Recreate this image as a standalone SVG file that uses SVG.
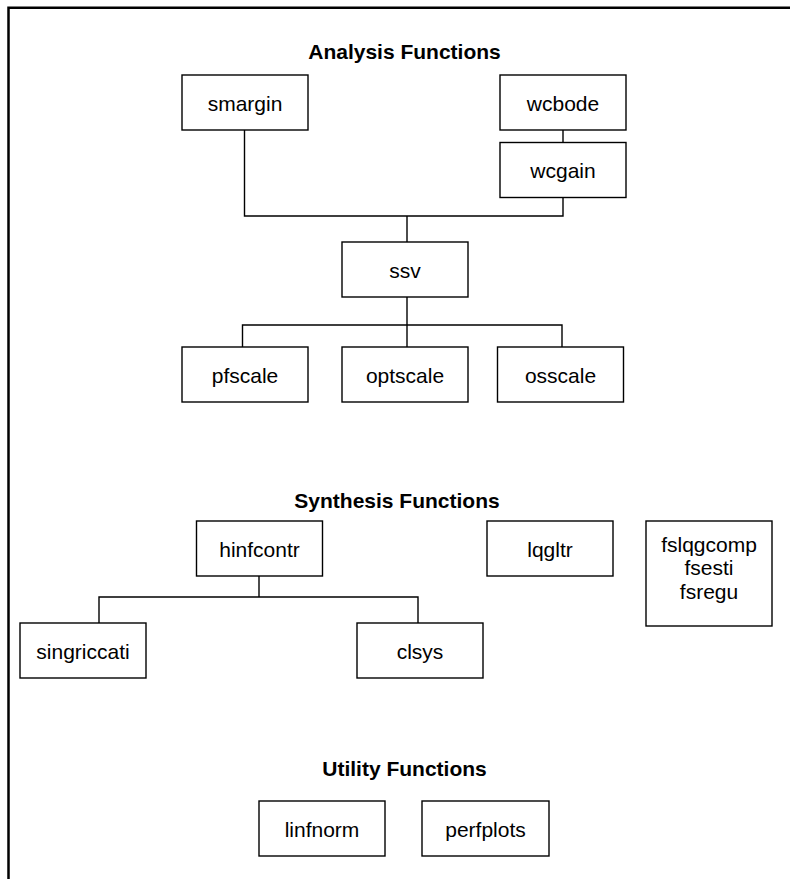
<svg xmlns="http://www.w3.org/2000/svg" width="790" height="879" viewBox="0 0 790 879">
<style>
.box{fill:#fff;stroke:#000;stroke-width:1.4}
.lbl{font-family:"Liberation Sans",Arial,Helvetica,sans-serif;font-size:21px;text-anchor:middle;fill:#000}
.ttl{font-family:"Liberation Sans",Arial,Helvetica,sans-serif;font-size:21px;font-weight:bold;text-anchor:middle;fill:#000}
.con{fill:none;stroke:#000;stroke-width:1.4}
.frame{fill:none;stroke:#000;stroke-width:2.5}
</style>
<rect width="790" height="879" fill="#fff"/>
<path class="frame" d="M8.5,879 V7.7 H790"/>
<text class="ttl" x="404.5" y="59">Analysis Functions</text>
<text class="ttl" x="397" y="508">Synthesis Functions</text>
<text class="ttl" x="404.5" y="776">Utility Functions</text>
<g id="connectors">
<path class="con" d="M244.5,130 V216 H563 V197.5"/>
<path class="con" d="M563,130 V142.5"/>
<path class="con" d="M407,216 V242"/>
<path class="con" d="M407,297 V347"/>
<path class="con" d="M242.5,347 V325 H562 V347"/>
<path class="con" d="M259,576 V597"/>
<path class="con" d="M99,623 V597 H418 V623"/>
</g>
<g id="smargin"><rect class="box" x="182" y="75" width="126" height="55"/><text class="lbl" x="245" y="110.5">smargin</text></g>
<g id="wcbode"><rect class="box" x="500" y="75" width="126" height="55"/><text class="lbl" x="563" y="110.5">wcbode</text></g>
<g id="wcgain"><rect class="box" x="500" y="142.5" width="126" height="55"/><text class="lbl" x="563" y="178">wcgain</text></g>
<g id="ssv"><rect class="box" x="342" y="242" width="126" height="55"/><text class="lbl" x="405" y="277.5">ssv</text></g>
<g id="pfscale"><rect class="box" x="182" y="347" width="126" height="55"/><text class="lbl" x="245" y="382.5">pfscale</text></g>
<g id="optscale"><rect class="box" x="342" y="347" width="126" height="55"/><text class="lbl" x="405" y="382.5">optscale</text></g>
<g id="osscale"><rect class="box" x="497.5" y="347" width="126" height="55"/><text class="lbl" x="560.5" y="382.5">osscale</text></g>
<g id="hinfcontr"><rect class="box" x="196.5" y="521" width="126" height="55"/><text class="lbl" x="259.5" y="556.5">hinfcontr</text></g>
<g id="lqgltr"><rect class="box" x="487" y="521" width="126" height="55"/><text class="lbl" x="550" y="556.5">lqgltr</text></g>
<g id="fslqgcomp"><rect class="box" x="646" y="521" width="126" height="105"/><text class="lbl" x="709" y="551.5">fslqgcomp</text><text class="lbl" x="709" y="575">fsesti</text><text class="lbl" x="709" y="598.5">fsregu</text></g>
<g id="singriccati"><rect class="box" x="20" y="623" width="126" height="55"/><text class="lbl" x="83" y="658.5">singriccati</text></g>
<g id="clsys"><rect class="box" x="357" y="623" width="126" height="55"/><text class="lbl" x="420" y="658.5">clsys</text></g>
<g id="linfnorm"><rect class="box" x="259" y="801" width="126" height="55"/><text class="lbl" x="322" y="836.5">linfnorm</text></g>
<g id="perfplots"><rect class="box" x="422" y="801" width="127" height="55"/><text class="lbl" x="485.5" y="836.5">perfplots</text></g>
</svg>
